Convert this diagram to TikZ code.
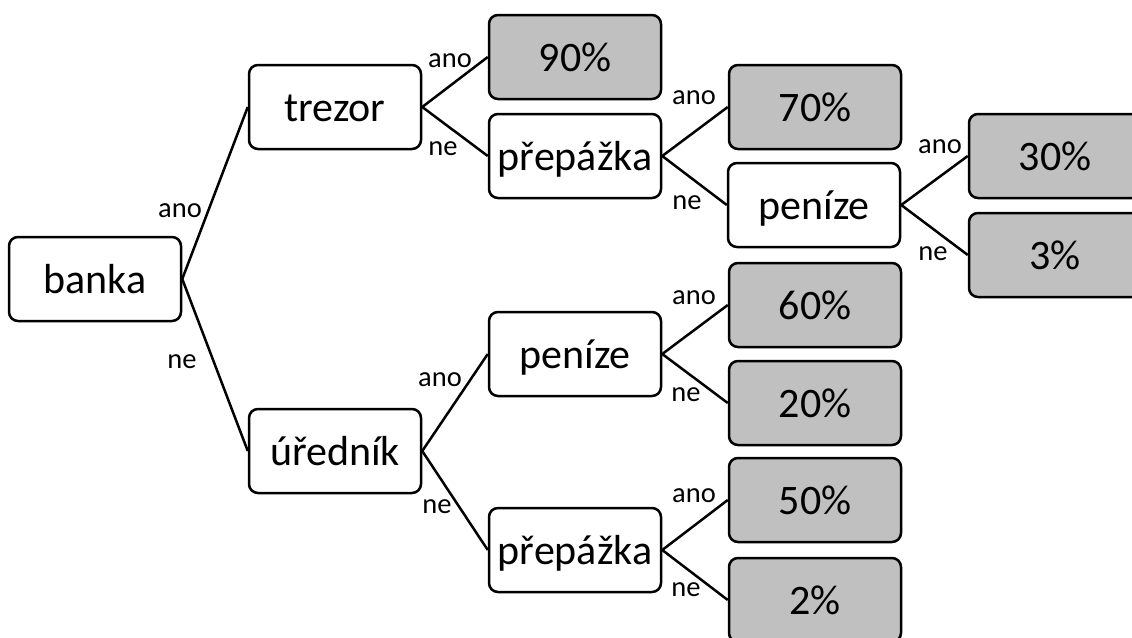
\documentclass[tikz,border=0pt]{standalone}
\usepackage{fontspec}
\setmainfont{Carlito}
\definecolor{leafgray}{RGB}{192,192,192}
\begin{document}
\begin{tikzpicture}[x=1pt,y=-1pt,
  box/.style={draw=black,line width=2.5pt,rounded corners=9pt,fill=white,
    minimum width=172pt,minimum height=84pt,inner sep=0pt,
    text height=28pt,text depth=0pt,font=\fontsize{42}{50}\selectfont},
  leaf/.style={box,fill=leafgray},
  lbl/.style={inner sep=0pt,font=\fontsize{28.5}{34}\selectfont},
  link/.style={line width=2.5pt}]
\useasboundingbox (0,0) rectangle (1132,637);

% decision nodes
\node[box] (banka) at (95,279) {banka};
\node[box] (trezor) at (335,107) {trezor};
\node[box] (prepA) at (575,156) {přepážka};
\node[box] (penizeA) at (814,205) {peníze};
\node[box] (urednik) at (335,451) {úředník};
\node[box] (penizeB) at (575,354) {peníze};
\node[box] (prepB) at (575,550) {přepážka};

% outcome leaves
\node[leaf] (p90) at (575,57) {90\%};
\node[leaf] (p70) at (815,107) {70\%};
\node[leaf] (p30) at (1055,156) {30\%};
\node[leaf] (p3) at (1055,255) {3\%};
\node[leaf] (p60) at (815,305) {60\%};
\node[leaf] (p20) at (815,403) {20\%};
\node[leaf] (p50) at (815,500) {50\%};
\node[leaf] (p2) at (815,600) {2\%};

% branches
\draw[link] (banka.east) -- (trezor.west);
\draw[link] (banka.east) -- (urednik.west);
\draw[link] (trezor.east) -- (p90.west);
\draw[link] (trezor.east) -- (prepA.west);
\draw[link] (prepA.east) -- (p70.west);
\draw[link] (prepA.east) -- (penizeA.west);
\draw[link] (penizeA.east) -- (p30.west);
\draw[link] (penizeA.east) -- (p3.west);
\draw[link] (urednik.east) -- (penizeB.west);
\draw[link] (urednik.east) -- (prepB.west);
\draw[link] (penizeB.east) -- (p60.west);
\draw[link] (penizeB.east) -- (p20.west);
\draw[link] (prepB.east) -- (p50.west);
\draw[link] (prepB.east) -- (p2.west);

% branch labels
\node[lbl] (l1) at (180,211) {ano};
\node[lbl] (l2) at (182,362) {ne};
\node[lbl] (l3) at (450,61) {ano};
\node[lbl] (l4) at (443,149) {ne};
\node[lbl] (l5) at (694,98) {ano};
\node[lbl] (l6) at (687,203) {ne};
\node[lbl] (l7) at (940,147) {ano};
\node[lbl] (l8) at (933,254) {ne};
\node[lbl] (l9) at (440,380) {ano};
\node[lbl] (l10) at (437,507) {ne};
\node[lbl] (l11) at (694,298) {ano};
\node[lbl] (l12) at (686,395) {ne};
\node[lbl] (l13) at (694,496) {ano};
\node[lbl] (l14) at (686,590) {ne};
\end{tikzpicture}
\end{document}
